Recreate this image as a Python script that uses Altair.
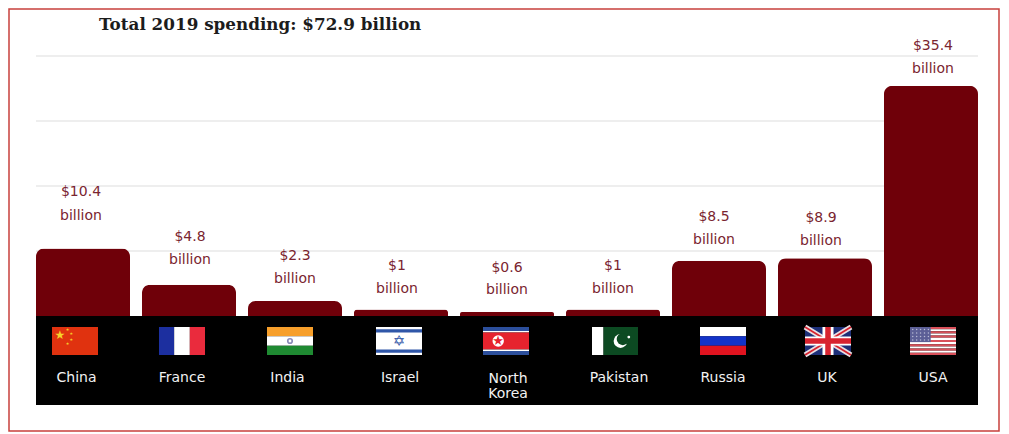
import altair as alt
import pandas as pd

categories = ["China", "France", "India", "Israel", "North Korea", "Pakistan", "Russia", "UK", "USA"]
values = [10.4, 4.8, 2.3, 1.0, 0.6, 1.0, 8.5, 8.9, 35.4]
value_labels = ["$10.4", "$4.8", "$2.3", "$1", "$0.6", "$1", "$8.5", "$8.9", "$35.4"]
unit_label = "billion"
title_text = "Total 2019 spending: $72.9 billion"
grid_values = [10, 20, 30, 40]

MAROON = "#6f0009"
LABEL = "#7a2530"
FONT = "DejaVu Sans"

# layout (pixels relative to the plot area)
label_lift = [32.5, 24.5, 22.5, 21, 22.5, 21, 20.5, 17.5, 16.5]
label_gap = [24, 23, 23, 23, 22, 23, 23, 23, 23]
label_dx = [-2, 1, 0, -4, 0, 0, -5, -4, 2]
name_dx = [-6.5, -7, -7.5, -1, 1, 6, 4, 2, 2]
flag_left = [16, 123, 231, 340, 447, 556, 664, 769, 874]
flag_w = 46
flag_top, flag_h = 271, 28

df = pd.DataFrame({"cat": categories, "val": values})
xs = alt.X("cat:N", scale=alt.Scale(type="band", domain=categories, paddingInner=0.1132, paddingOuter=0), axis=None)
ys = alt.Y("val:Q", scale=alt.Scale(domain=[0, 40], nice=False), axis=None)


def rows(flag, items):
    out = []
    left = flag_left[categories.index(flag)]
    for u0, u1, v0, v1, c in items:
        out.append({"x0": left + u0 * flag_w, "x1": left + u1 * flag_w,
                    "y0": flag_top + v0 * flag_h, "y1": flag_top + v1 * flag_h, "c": c})
    return out


base_rects = []
base_rects += rows("China", [(0, 1, 0, 1, "#e0320f")])
base_rects += rows("France", [(0, .33, 0, 1, "#1c2f9f"), (.33, .67, 0, 1, "#ffffff"), (.67, 1, 0, 1, "#ea2b3d")])
base_rects += rows("India", [(0, 1, 0, .33, "#f79f2b"), (0, 1, .33, .67, "#ffffff"), (0, 1, .67, 1, "#1f8a32")])
base_rects += rows("Israel", [(0, 1, 0, 1, "#ffffff"), (0, 1, .08, .2, "#2f56a8"), (0, 1, .8, .92, "#2f56a8")])
base_rects += rows("North Korea", [(0, 1, 0, .14, "#2c4f9c"), (0, 1, .14, .2, "#ffffff"), (0, 1, .2, .8, "#e6232e"),
                                   (0, 1, .8, .86, "#ffffff"), (0, 1, .86, 1, "#2c4f9c")])
base_rects += rows("Pakistan", [(0, .25, 0, 1, "#ffffff"), (.25, 1, 0, 1, "#0c4a22")])
base_rects += rows("Russia", [(0, 1, 0, .33, "#ffffff"), (0, 1, .33, .67, "#1233c8"), (0, 1, .67, 1, "#e0131f")])
base_rects += rows("UK", [(0, 1, 0, 1, "#1d2f78")])
base_rects += rows("USA", [(0, 1, i / 13, (i + 1) / 13, "#d9505a" if i % 2 == 0 else "#ffffff") for i in range(13)]
                   + [(0, .45, 0, .54, "#5c5f96")])
over_rects = rows("UK", [(.38, .62, 0, 1, "#ffffff"), (0, 1, .34, .66, "#ffffff"),
                         (.44, .56, 0, 1, "#d8232f"), (0, 1, .4, .6, "#d8232f")])

uk = flag_left[categories.index("UK")]
diagonals = []
for (a, b, w, c) in [((0, 0), (1, 1), 5, "#e9e0e4"), ((0, 1), (1, 0), 5, "#e9e0e4"),
                     ((0, 0), (1, 1), 1.8, "#d8232f"), ((0, 1), (1, 0), 1.8, "#d8232f")]:
    diagonals.append({"x0": uk + a[0] * flag_w, "x1": uk + b[0] * flag_w,
                      "y0": flag_top + a[1] * flag_h, "y1": flag_top + b[1] * flag_h, "w": w, "c": c})


def fpos(flag, u, v):
    return flag_left[categories.index(flag)] + u * flag_w, flag_top + v * flag_h


circles = []
for flag, u, v, s, c in [("India", .5, .5, 38, "#8a8ab8"), ("India", .5, .5, 8, "#ffffff"),
                         ("North Korea", .33, .5, 130, "#ffffff"),
                         ("Pakistan", .62, .5, 190, "#ffffff"), ("Pakistan", .67, .43, 150, "#0c4a22"),
                         ("Pakistan", .8, .36, 8, "#ffffff")]:
    x, y = fpos(flag, u, v)
    circles.append({"x": x, "y": y, "s": s, "c": c})
for i in range(5):
    for j in range(4):
        x, y = fpos("USA", .06 + i * .085, .09 + j * .125)
        circles.append({"x": x, "y": y, "s": 2.2, "c": "#b9bbd6"})

glyphs = []
for flag, u, v, t, s, c in [("China", .17, .27, "★", 12, "#f6d32b"),
                            ("China", .34, .1, "★", 4, "#f6d32b"), ("China", .42, .25, "★", 4, "#f6d32b"),
                            ("China", .42, .45, "★", 4, "#f6d32b"), ("China", .34, .62, "★", 4, "#f6d32b"),
                            ("Israel", .5, .5, "✡", 15, "#2f56a8"),
                            ("North Korea", .33, .5, "★", 13, "#e6232e")]:
    x, y = fpos(flag, u, v)
    glyphs.append({"x": x, "y": y, "t": t, "s": s, "c": c})

PX = alt.X("x0:Q", scale=None, axis=None)
PY = alt.Y("y0:Q", scale=None, axis=None)
COL = alt.Color("c:N", scale=None, legend=None)

one = pd.DataFrame({"a": [0]})

layers = [
    alt.Chart(one).mark_rect(filled=False, stroke="#c8403c", strokeWidth=1.5).encode(
        x=alt.value(-27), x2=alt.value(963), y=alt.value(-47), y2=alt.value(375)),
    alt.Chart(pd.DataFrame({"g": grid_values})).mark_rule(color="#dddddd", strokeWidth=1).encode(
        y=alt.Y("g:Q", scale=alt.Scale(domain=[0, 40], nice=False), axis=None),
        x=alt.value(0), x2=alt.value(942)),
    alt.Chart(df).mark_bar(color=MAROON, cornerRadiusTopLeft=8, cornerRadiusTopRight=8).encode(x=xs, y=ys),
    alt.Chart(one).mark_rect(color="#000000").encode(
        x=alt.value(0), x2=alt.value(942), y=alt.value(260), y2=alt.value(349)),
    alt.Chart(pd.DataFrame(base_rects)).mark_rect().encode(
        x=PX, x2="x1:Q", y=PY, y2="y1:Q", color=COL),
    alt.Chart(pd.DataFrame(diagonals)).mark_rule().encode(
        x=PX, x2="x1:Q", y=PY, y2="y1:Q", color=COL,
        strokeWidth=alt.StrokeWidth("w:Q", scale=None, legend=None)),
    alt.Chart(pd.DataFrame(over_rects)).mark_rect().encode(
        x=PX, x2="x1:Q", y=PY, y2="y1:Q", color=COL),
    alt.Chart(pd.DataFrame(circles)).mark_circle(opacity=1).encode(
        x=alt.X("x:Q", scale=None, axis=None), y=alt.Y("y:Q", scale=None, axis=None), color=COL,
        size=alt.Size("s:Q", scale=None, legend=None)),
]

for g in glyphs:
    layers.append(alt.Chart(pd.DataFrame([g])).mark_text(
        font="DejaVu Sans", fontSize=g["s"], color=g["c"], baseline="middle", align="center").encode(
        x=alt.X("x:Q", scale=None, axis=None), y=alt.Y("y:Q", scale=None, axis=None), text="t:N"))

for i, cat in enumerate(categories):
    row = pd.DataFrame({"cat": [cat], "val": [values[i]], "v": [value_labels[i]], "u": [unit_label]})
    lift = label_lift[i]
    layers.append(alt.Chart(row).mark_text(
        font=FONT, fontSize=14, color=LABEL, baseline="middle", align="center",
        dx=label_dx[i], dy=-(lift + label_gap[i])).encode(x=xs, y=ys, text="v:N"))
    layers.append(alt.Chart(row).mark_text(
        font=FONT, fontSize=14, color=LABEL, baseline="middle", align="center",
        dx=label_dx[i], dy=-lift).encode(x=xs, y=ys, text="u:N"))
    name = cat.replace(" ", "\n")
    two = "\n" in name
    nrow = pd.DataFrame({"cat": [cat], "n": [name]})
    layers.append(alt.Chart(nrow).mark_text(
        font=FONT, fontSize=14, color="#f2f2f2", baseline="middle", align="center",
        lineBreak="\n", lineHeight=15, dx=name_dx[i]).encode(
        x=xs, y=alt.value(323 if two else 322), text="n:N"))

layers.append(alt.Chart(pd.DataFrame({"t": [title_text]})).mark_text(
    font="DejaVu Serif", fontWeight="bold", fontSize=16.8, color="#1c1c1c", align="left", baseline="middle").encode(
    x=alt.value(63), y=alt.value(-31), text="t:N"))

chart = alt.layer(*layers).resolve_scale(x="independent", y="independent", color="independent", size="independent",
                                         strokeWidth="independent").properties(
    width=942, height=260,
    padding={"left": 28, "top": 48, "right": 22, "bottom": 117},
    autosize=alt.AutoSizeParams(type="none"),
    background="#ffffff",
).configure_view(stroke=None)

chart.save("out.html", embed_options={"renderer": "svg", "actions": False})
